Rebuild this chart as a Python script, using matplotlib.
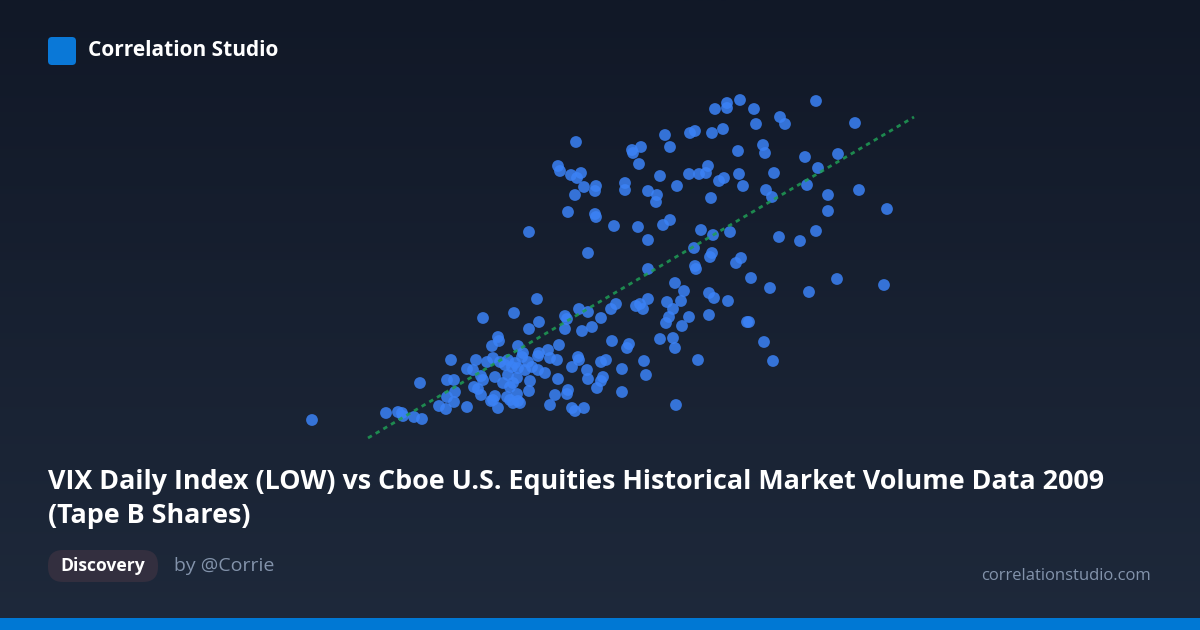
import numpy as np
import matplotlib
matplotlib.use("Agg")
import matplotlib.pyplot as plt
from matplotlib.patches import FancyBboxPatch, Rectangle
from matplotlib.colors import LinearSegmentedColormap

# ---------------- data (VIX daily low vs Tape B volume, millions of shares) -------------
vix_low = [
    40.75, 39.50, 39.75, 40.60, 38.25, 33.80, 36.60, 37.05, 36.65, 38.50,
    32.90, 33.00, 33.55, 34.05, 33.85, 36.95, 38.00, 39.45, 39.95, 40.30,
    40.40, 40.95, 34.20, 34.80, 34.75, 33.75, 36.25, 36.25, 37.40, 37.85,
    37.80, 38.85, 40.55, 33.40, 34.75, 34.80, 35.70, 36.90, 38.15, 38.50,
    31.45, 37.40, 40.05, 40.65, 39.70, 34.40, 40.60, 40.50, 42.00, 41.35,
    41.35, 42.70, 45.80, 44.00, 44.25, 42.80, 47.75, 41.15, 43.15, 43.25,
    41.90, 45.25, 46.90, 41.95, 41.20, 43.70, 45.90, 42.15, 45.35, 43.30,
    43.60, 46.40, 47.95, 46.40, 49.35, 41.50, 43.95, 45.00, 45.80, 42.05,
    41.80, 39.75, 39.80, 37.40, 42.55, 38.75, 39.20, 40.45, 40.70, 41.40,
    37.40, 38.35, 39.05, 35.80, 35.55, 36.80, 37.00, 37.15, 38.65, 40.45,
    39.45, 35.05, 34.60, 38.45, 38.30, 39.10, 42.35, 35.60, 38.00, 38.65,
    38.75, 36.45, 36.35, 37.20, 39.90, 35.05, 35.30, 36.10, 37.30, 35.15,
    35.05, 34.85, 36.10, 38.80, 43.50, 45.45, 46.85, 49.20, 42.45, 43.20,
    43.65, 31.85, 29.15, 30.70, 33.25, 33.35, 33.95, 34.40, 31.45, 31.95,
    33.25, 34.10, 29.90, 29.95, 29.60, 30.90, 32.95, 32.40, 31.15, 31.95,
    31.90, 32.50, 32.85, 27.55, 28.80, 29.35, 29.65, 30.00, 30.40, 30.75,
    31.10, 31.40, 31.60, 31.25, 31.90, 32.25, 30.90, 30.60, 30.25, 28.35,
    28.65, 29.05, 29.15, 29.75, 30.40, 30.85, 31.50, 32.90, 33.60, 33.90,
    33.95, 34.35, 34.40, 27.35, 27.70, 28.70, 28.90, 29.05, 27.75, 29.75,
    29.65, 30.15, 30.50, 30.65, 30.35, 30.50, 30.85, 30.90, 31.45, 32.75,
    33.40, 33.35, 32.50, 33.60, 33.75, 34.20, 26.95, 27.30, 28.35, 29.90,
    30.65, 31.00, 29.55, 20.60, 24.30, 24.90, 25.10, 25.15, 25.70, 26.10,
    26.00, 27.35, 27.70,
]
tape_b_volume = [
    2255, 2135, 2145, 2135, 2125, 2090, 2050, 2065, 2035, 2065,
    1970, 1945, 1925, 1935, 1910, 1980, 1920, 1930, 1930, 1935,
    1970, 1895, 1865, 1870, 1845, 1825, 1885, 1850, 1845, 1825,
    1790, 1870, 1810, 1740, 1730, 1715, 1670, 1665, 1675, 1700,
    1640, 1600, 1650, 1625, 1560, 1535, 1535, 1515, 2300, 2285,
    2260, 2255, 2295, 2215, 2180, 2180, 2185, 2155, 2075, 2035,
    2045, 2015, 2030, 1930, 1910, 1935, 1960, 1870, 1875, 1850,
    1815, 1825, 1850, 1745, 1755, 1640, 1615, 1595, 1645, 1510,
    1485, 1470, 1455, 1455, 1410, 1385, 1345, 1335, 1310, 1295,
    1305, 1290, 1295, 1280, 1255, 1270, 1280, 1255, 1255, 1225,
    1215, 1210, 1165, 1215, 1185, 1170, 1190, 1095, 1105, 1110,
    1060, 1080, 1060, 995, 1000, 990, 1000, 955, 925, 915,
    895, 860, 840, 775, 1360, 1340, 1405, 1375, 1190, 1090,
    995, 1305, 1210, 1235, 1220, 1205, 1255, 1240, 1155, 1190,
    1155, 1145, 1115, 1095, 1070, 1070, 1075, 1050, 1035, 1035,
    1020, 1010, 1000, 1000, 1000, 990, 1010, 990, 1000, 985,
    1015, 990, 965, 950, 950, 935, 960, 965, 975, 955,
    950, 920, 900, 915, 925, 910, 895, 905, 965, 1015,
    1000, 950, 905, 900, 900, 865, 855, 825, 840, 820,
    800, 885, 865, 885, 815, 800, 830, 795, 845, 825,
    850, 830, 775, 760, 745, 760, 770, 755, 765, 760,
    785, 785, 795, 700, 735, 740, 735, 720, 715, 705,
    885, 815, 790,
]
trend_x = [23.4, 50.7]
trend_y = [610, 2215]

title_text = ("VIX Daily Index (LOW) vs Cboe U.S. Equities Historical Market Volume Data 2009\n"
              "(Tape B Shares)")
brand_text = "Correlation Studio"
tag_text = "Discovery"
author_text = "by @Corrie"
site_text = "correlationstudio.com"

# ---------------- figure ----------------
W, H = 1200, 630
fig = plt.figure(figsize=(W / 100, H / 100), dpi=100)
plt.rcParams['font.family'] = ['Open Sans', 'DejaVu Sans']

# background gradient
bg = fig.add_axes([0, 0, 1, 1])
bg.set_xlim(0, W)
bg.set_ylim(H, 0)
bg.axis('off')
cmap = LinearSegmentedColormap.from_list('bg', ['#111827', '#1e293b'])
grad = np.linspace(0, 1, 256).reshape(-1, 1)
bg.imshow(grad, cmap=cmap, aspect='auto', extent=[0, W, H, 0], zorder=0)

# bottom accent bar
bg.add_patch(Rectangle((0, 618), W, 12, color='#0078d4', zorder=2, lw=0))

# logo
bg.add_patch(FancyBboxPatch((48 + 4, 37 + 4), 20, 20,
                            boxstyle='round,pad=4', color='#0a78d7', lw=0, zorder=2))
bg.text(88, 51, brand_text, color='white', fontsize=15, fontweight='bold',
        va='center', ha='left', zorder=3)

# title
bg.text(48, 499, title_text, color='white', fontsize=19.4, fontweight='bold',
        va='center', ha='left', linespacing=1.42, zorder=3)

# tag pill
bg.add_patch(FancyBboxPatch((48, 550), 110, 32,
                            boxstyle='round,pad=0,rounding_size=15',
                            color='#332f3f', lw=0, zorder=2))
bg.text(103, 566, tag_text, color='white', fontsize=12.6, fontweight='bold',
        va='center', ha='center', zorder=3)
bg.text(174, 566, author_text, color='#8393ab', fontsize=14,
        va='center', ha='left', zorder=3)
bg.text(1151, 576, site_text, color='#8393ab', fontsize=12.0,
        va='center', ha='right', zorder=3)

# scatter axes: pixel x 290..910, y 90..440
ax = fig.add_axes([290 / W, (H - 440) / H, 620 / W, 350 / H])
ax.set_xlim(19.5, 50.5)
ax.set_ylim(600, 2350)
ax.axis('off')
ax.patch.set_alpha(0)
ax.plot(trend_x, trend_y, color='#1f9d55', lw=2, ls=(0, (1.6, 1.6)), alpha=0.85,
        zorder=3, clip_on=False)
ax.scatter(vix_low, tape_b_volume, s=72, color='#3b82f6', alpha=0.85,
           edgecolors='none', zorder=2, clip_on=False)

fig.savefig('out.png', dpi=100, facecolor=fig.get_facecolor())
